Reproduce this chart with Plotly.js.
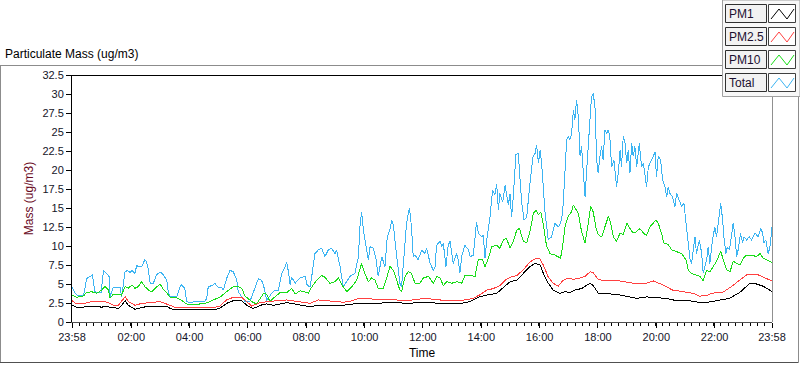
<!DOCTYPE html>
<html><head><meta charset="utf-8">
<script src="https://cdn.plot.ly/plotly-3.0.1.min.js"></script>
<style>html,body{margin:0;padding:0;background:#fff}#chart{width:800px;height:365px}
.scatterlayer path.js-line{shape-rendering:crispEdges}
</style>
</head><body><div id="chart"></div>
<script>
// ---- data (hours since 23:58, mass in ug/m3) ----
const seriesNames = ['PM1', 'PM2.5', 'PM10', 'Total'];
const seriesColors = ['#000000', '#ff4040', '#19dd19', '#3cb4f2'];

const tickHours = [0, 2.033, 4.033, 6.033, 8.033, 10.033, 12.033, 14.033, 16.033, 18.033, 20.033, 22.033, 24];
const tickLabels = ['23:58', '02:00', '04:00', '06:00', '08:00', '10:00', '12:00', '14:00', '16:00', '18:00', '20:00', '22:00', '23:58'];
const yTickVals = [0, 2.5, 5, 7.5, 10, 12.5, 15, 17.5, 20, 22.5, 25, 27.5, 30, 32.5];
const yTickText = ['0', '2.5', '5', '7.5', '10', '12.5', '15', '17.5', '20', '22.5', '25', '27.5', '30', '32.5'];

const pm1Time = [0, 0.16, 0.39, 0.5, 0.85, 1.02, 1.13, 1.3, 1.59, 1.7, 1.82, 1.93, 2.16, 2.39, 2.62, 3.02, 3.25, 3.36, 3.53, 4.5, 4.84, 5.07, 5.3, 5.53, 5.82, 5.99, 6.2, 6.33, 6.45, 6.67, 6.9, 7.13, 7.36, 7.53, 7.82, 8.16, 8.45, 9.0, 9.3, 9.82, 10.42, 11.02, 11.47, 12.1, 12.62, 13.3, 13.65, 13.99, 14.22, 14.56, 14.79, 15.02, 15.25, 15.48, 15.7, 15.88, 16.05, 16.16, 16.33, 16.5, 16.73, 16.9, 17.07, 17.24, 17.47, 17.76, 17.87, 18.04, 18.33, 18.79, 19.36, 19.7, 20.04, 20.39, 20.73, 21.07, 21.64, 22.1, 22.54, 22.9, 23.24, 23.47, 23.7, 24];
const pm1Mass = [2.2, 1.93, 1.93, 2.1, 2.1, 1.93, 2.1, 1.93, 1.8, 2.2, 2.8, 2.2, 1.67, 1.93, 2.1, 2.0, 2.1, 1.8, 1.58, 1.58, 1.58, 1.8, 2.45, 2.8, 2.8, 2.2, 1.8, 1.93, 2.2, 2.37, 2.2, 2.37, 2.55, 2.45, 2.2, 2.0, 2.2, 2.15, 2.2, 2.45, 2.45, 2.6, 2.45, 2.6, 2.45, 2.4, 2.7, 3.33, 3.55, 3.77, 4.6, 5.3, 5.5, 6.4, 7.3, 7.7, 7.5, 6.4, 5.1, 4.2, 3.77, 4.0, 3.85, 4.2, 4.4, 5.1, 4.8, 3.8, 3.75, 3.55, 3.1, 3.3, 3.2, 3.1, 2.8, 2.85, 2.5, 2.8, 3.1, 3.9, 5.1, 5.0, 4.7, 4.0];

const pm25Time = [0, 0.16, 0.39, 0.5, 0.67, 1.13, 1.3, 1.42, 1.59, 1.7, 1.82, 1.93, 2.16, 2.39, 2.62, 3.02, 3.36, 3.53, 3.93, 4.5, 4.84, 5.07, 5.3, 5.53, 5.82, 5.99, 6.16, 6.45, 6.67, 7.02, 7.36, 7.53, 7.82, 8.16, 8.45, 8.79, 9.13, 9.3, 9.53, 9.82, 10.16, 10.5, 11.02, 11.24, 11.7, 12.05, 12.39, 12.85, 13.3, 13.53, 13.76, 13.99, 14.22, 14.45, 14.67, 14.85, 15.02, 15.25, 15.48, 15.7, 15.88, 16.04, 16.16, 16.33, 16.5, 16.67, 16.82, 17.01, 17.19, 17.42, 17.59, 17.76, 17.87, 18.04, 18.33, 18.79, 19.24, 19.59, 19.93, 20.25, 20.59, 20.93, 21.3, 21.51, 21.76, 21.96, 22.31, 22.62, 22.92, 23.13, 23.47, 23.7, 24];
const pm25Mass = [2.8, 2.37, 2.37, 2.55, 2.68, 2.68, 2.45, 2.2, 2.2, 2.68, 3.33, 2.68, 2.2, 2.45, 2.55, 2.68, 2.2, 1.93, 1.89, 1.89, 1.89, 2.1, 2.9, 3.25, 3.25, 2.68, 2.1, 2.55, 2.68, 2.8, 2.9, 2.8, 2.68, 2.46, 2.9, 2.8, 2.7, 2.6, 2.7, 3.1, 3.1, 2.9, 3.0, 2.8, 2.9, 3.1, 3.0, 2.8, 2.8, 3.0, 3.1, 3.6, 4.2, 4.4, 4.8, 5.5, 5.9, 6.1, 6.9, 7.9, 8.3, 8.3, 7.5, 5.9, 5.1, 4.7, 5.4, 5.8, 5.6, 5.8, 6.0, 6.6, 6.5, 5.6, 5.4, 5.4, 5.1, 5.0, 5.4, 4.9, 4.2, 4.0, 3.77, 3.4, 3.5, 3.8, 3.9, 4.7, 5.6, 6.2, 6.3, 5.9, 5.4];

const pm10Time = [0, 0.16, 0.39, 0.5, 0.67, 0.85, 1.02, 1.13, 1.25, 1.3, 1.42, 1.59, 1.7, 1.82, 1.93, 2.05, 2.16, 2.27, 2.39, 2.5, 2.62, 2.73, 2.85, 3.02, 3.13, 3.25, 3.36, 3.53, 3.7, 3.93, 4.16, 4.5, 4.67, 4.84, 5.07, 5.3, 5.53, 5.65, 5.82, 5.93, 6.16, 6.33, 6.45, 6.56, 6.67, 6.79, 6.9, 7.13, 7.36, 7.53, 7.65, 7.82, 7.99, 8.1, 8.22, 8.39, 8.56, 8.67, 8.84, 9.02, 9.13, 9.3, 9.42, 9.59, 9.76, 9.87, 9.93, 10.04, 10.16, 10.27, 10.39, 10.5, 10.67, 10.79, 10.9, 11.02, 11.13, 11.24, 11.3, 11.42, 11.53, 11.64, 11.76, 11.93, 12.05, 12.22, 12.39, 12.5, 12.62, 12.73, 12.85, 13.02, 13.19, 13.36, 13.47, 13.65, 13.82, 13.93, 14.08, 14.16, 14.28, 14.39, 14.56, 14.67, 14.79, 14.9, 15.02, 15.13, 15.25, 15.34, 15.48, 15.59, 15.7, 15.82, 15.91, 15.99, 16.07, 16.16, 16.27, 16.39, 16.56, 16.67, 16.75, 16.82, 16.9, 17.01, 17.13, 17.19, 17.28, 17.36, 17.47, 17.59, 17.7, 17.78, 17.87, 17.96, 18.04, 18.16, 18.27, 18.39, 18.47, 18.56, 18.67, 18.79, 18.9, 19.02, 19.13, 19.24, 19.36, 19.47, 19.59, 19.7, 19.81, 19.93, 20.02, 20.1, 20.21, 20.29, 20.44, 20.56, 20.73, 20.9, 21.05, 21.13, 21.24, 21.41, 21.53, 21.64, 21.76, 21.87, 21.99, 22.1, 22.24, 22.33, 22.44, 22.56, 22.67, 22.79, 22.9, 23.02, 23.13, 23.3, 23.47, 23.59, 23.7, 23.82, 24];
const pm10Mass = [3.55, 3.25, 3.42, 3.86, 3.99, 3.77, 4.21, 4.65, 4.21, 3.11, 3.68, 3.68, 3.55, 4.65, 4.43, 4.87, 4.43, 4.65, 5.31, 4.65, 4.21, 3.99, 4.43, 5.0, 4.3, 3.86, 3.25, 3.25, 3.0, 2.37, 2.24, 2.46, 2.55, 2.9, 3.25, 3.99, 4.65, 4.74, 4.43, 3.42, 2.68, 2.37, 3.0, 3.72, 3.68, 2.68, 3.11, 3.86, 3.86, 4.43, 3.68, 4.1, 3.95, 3.8, 4.6, 5.5, 6.1, 5.9, 5.1, 5.3, 5.8, 4.6, 4.0, 4.6, 5.5, 6.8, 7.7, 6.4, 5.3, 5.8, 5.5, 4.4, 4.4, 5.8, 7.3, 6.8, 5.5, 4.2, 4.0, 6.0, 6.6, 6.4, 5.1, 5.1, 5.8, 6.0, 5.1, 6.0, 5.8, 4.8, 5.3, 5.1, 5.3, 5.1, 6.1, 6.1, 6.0, 8.2, 8.2, 7.3, 8.4, 9.9, 10.1, 9.7, 10.8, 11.0, 9.7, 10.6, 12.1, 12.3, 10.6, 10.4, 11.9, 14.3, 14.7, 14.1, 14.5, 12.8, 10.0, 9.0, 8.8, 8.6, 8.4, 9.9, 12.5, 13.9, 14.5, 15.4, 14.9, 14.3, 11.9, 10.4, 13.0, 15.2, 14.5, 12.5, 11.5, 11.2, 12.5, 13.9, 13.0, 11.2, 10.6, 11.7, 11.5, 13.0, 12.3, 11.7, 11.9, 12.3, 11.7, 11.4, 12.5, 13.0, 13.4, 13.0, 11.7, 10.4, 10.2, 9.5, 9.3, 9.0, 8.2, 6.8, 6.4, 6.2, 6.0, 5.4, 6.8, 6.6, 7.3, 8.0, 9.3, 8.2, 6.9, 6.6, 8.0, 7.7, 7.5, 8.4, 8.8, 8.8, 8.6, 9.0, 8.4, 8.2, 7.8];

const totalTime = [0, 0.1, 0.2, 0.4, 0.5, 0.6, 0.7, 0.78, 0.85, 1.0, 1.08, 1.18, 1.27, 1.31, 1.42, 1.55, 1.65, 1.7, 1.82, 1.9, 2.0, 2.05, 2.16, 2.22, 2.27, 2.39, 2.5, 2.56, 2.62, 2.68, 2.79, 2.9, 3.02, 3.13, 3.25, 3.3, 3.36, 3.59, 3.7, 3.76, 3.87, 3.93, 4.1, 4.16, 4.55, 4.62, 4.67, 4.84, 4.9, 5.0, 5.13, 5.19, 5.3, 5.42, 5.53, 5.65, 5.7, 5.82, 5.93, 6.1, 6.28, 6.39, 6.5, 6.58, 6.67, 6.73, 6.85, 6.96, 7.08, 7.19, 7.31, 7.36, 7.42, 7.48, 7.53, 7.65, 7.82, 7.99, 8.06, 8.16, 8.22, 8.33, 8.45, 8.56, 8.67, 8.79, 8.9, 9.02, 9.07, 9.19, 9.3, 9.42, 9.53, 9.7, 9.82, 9.87, 9.93, 9.99, 10.1, 10.16, 10.22, 10.33, 10.42, 10.5, 10.62, 10.73, 10.81, 10.9, 10.96, 11.02, 11.07, 11.13, 11.24, 11.3, 11.36, 11.42, 11.47, 11.57, 11.64, 11.7, 11.76, 11.87, 11.99, 12.1, 12.16, 12.28, 12.39, 12.45, 12.5, 12.62, 12.68, 12.73, 12.82, 12.9, 12.96, 13.07, 13.19, 13.24, 13.3, 13.36, 13.47, 13.59, 13.65, 13.76, 13.87, 13.93, 14.05, 14.1, 14.16, 14.22, 14.33, 14.42, 14.5, 14.56, 14.62, 14.67, 14.77, 14.85, 14.9, 14.96, 15.02, 15.07, 15.13, 15.22, 15.3, 15.36, 15.42, 15.5, 15.59, 15.7, 15.8, 15.88, 15.93, 15.99, 16.05, 16.1, 16.16, 16.22, 16.33, 16.44, 16.56, 16.67, 16.75, 16.82, 16.9, 16.96, 17.01, 17.07, 17.13, 17.19, 17.24, 17.3, 17.36, 17.42, 17.47, 17.53, 17.59, 17.64, 17.7, 17.76, 17.81, 17.87, 17.93, 17.99, 18.04, 18.1, 18.16, 18.21, 18.27, 18.33, 18.39, 18.44, 18.5, 18.58, 18.67, 18.73, 18.79, 18.84, 18.9, 18.96, 19.02, 19.07, 19.13, 19.19, 19.24, 19.3, 19.36, 19.45, 19.53, 19.59, 19.64, 19.7, 19.76, 19.81, 19.87, 19.93, 19.99, 20.04, 20.1, 20.18, 20.25, 20.33, 20.39, 20.44, 20.5, 20.59, 20.67, 20.73, 20.82, 20.9, 20.98, 21.05, 21.13, 21.19, 21.24, 21.3, 21.36, 21.41, 21.51, 21.59, 21.64, 21.7, 21.76, 21.81, 21.87, 21.96, 22.04, 22.1, 22.16, 22.24, 22.31, 22.35, 22.42, 22.47, 22.54, 22.62, 22.67, 22.73, 22.79, 22.84, 22.92, 22.99, 23.04, 23.13, 23.22, 23.3, 23.42, 23.53, 23.61, 23.68, 23.72, 23.79, 23.87, 23.93, 24];
const totalMass = [4.6, 3.8, 3.5, 3.5, 5.7, 5.9, 6.2, 4.0, 3.9, 3.9, 6.8, 6.4, 6.0, 3.3, 4.6, 4.6, 4.6, 3.3, 6.6, 6.8, 6.5, 6.8, 6.4, 7.5, 7.3, 7.3, 8.2, 7.9, 6.8, 5.1, 5.1, 6.2, 6.6, 6.2, 5.5, 4.0, 3.3, 3.3, 4.6, 4.9, 4.4, 2.7, 2.5, 2.7, 2.7, 3.1, 4.6, 4.9, 5.1, 4.6, 4.6, 4.2, 5.7, 6.8, 6.6, 5.5, 4.0, 3.3, 2.7, 2.7, 4.4, 5.7, 5.5, 4.6, 2.9, 3.1, 3.8, 4.2, 4.2, 6.4, 7.3, 7.9, 6.6, 4.9, 5.9, 5.1, 5.8, 6.0, 4.9, 4.6, 6.0, 9.0, 9.5, 9.7, 8.6, 9.5, 9.7, 9.0, 9.5, 7.3, 4.65, 5.3, 6.0, 6.4, 8.6, 12.5, 14.5, 12.1, 9.5, 8.2, 9.9, 9.7, 8.4, 6.0, 8.6, 7.3, 11.2, 12.1, 13.4, 12.8, 10.8, 8.6, 5.1, 4.65, 7.7, 9.9, 13.0, 15.0, 12.5, 8.6, 8.8, 8.2, 9.5, 9.0, 9.7, 7.7, 6.8, 7.3, 10.1, 10.6, 9.9, 10.4, 7.3, 10.1, 10.6, 7.7, 9.0, 8.2, 6.4, 8.6, 10.1, 9.5, 8.6, 8.8, 13.2, 11.7, 11.2, 11.45, 8.4, 10.8, 13.8, 17.4, 16.7, 18.2, 14.7, 16.9, 15.8, 18.0, 16.9, 15.4, 16.9, 13.8, 16.5, 22.0, 22.2, 18.7, 15.6, 13.4, 13.8, 18.2, 21.7, 22.2, 23.3, 20.9, 22.6, 21.0, 17.4, 14.3, 10.8, 11.2, 13.0, 12.5, 13.0, 14.3, 19.6, 24.0, 24.4, 24.0, 24.8, 27.9, 26.6, 29.2, 27.0, 21.8, 23.1, 19.1, 16.5, 19.6, 23.1, 27.9, 29.6, 30.1, 28.3, 21.3, 19.6, 21.8, 23.1, 21.3, 25.3, 24.8, 25.3, 24.4, 20.4, 21.3, 17.8, 19.6, 22.6, 20.4, 24.4, 23.5, 20.9, 22.6, 19.6, 23.5, 21.8, 23.1, 20.4, 23.5, 20.4, 20.9, 19.1, 17.8, 20.4, 20.9, 21.3, 21.8, 22.4, 19.1, 21.8, 21.3, 18.7, 17.8, 16.5, 17.8, 16.9, 16.5, 15.2, 16.9, 16.0, 15.2, 15.6, 13.4, 10.8, 8.2, 7.7, 9.9, 11.2, 9.0, 10.8, 9.0, 6.4, 7.3, 8.2, 9.9, 7.7, 10.8, 12.5, 11.2, 13.4, 15.6, 13.4, 11.2, 9.0, 9.9, 9.5, 12.1, 13.0, 11.2, 8.6, 9.5, 11.7, 10.4, 11.2, 10.8, 11.2, 10.8, 11.7, 11.2, 12.3, 11.7, 10.4, 10.8, 9.0, 9.9, 12.5];

// ---- figure ----
const L = 72, T = 75, W = 700, H = 247;           // plot area in pixels
const px = v => (v - L) / W, py = v => (T + H - v) / H;

const traces = [
  {x: totalTime, y: totalMass, color: seriesColors[3]},
  {x: pm10Time, y: pm10Mass, color: seriesColors[2]},
  {x: pm25Time, y: pm25Mass, color: seriesColors[1]},
  {x: pm1Time, y: pm1Mass, color: seriesColors[0]}
].map(s => ({x: s.x, y: s.y, type: 'scatter', mode: 'lines', line: {color: s.color, width: 1}, hoverinfo: 'skip', showlegend: false}));

const shapes = [];
const annotations = [];
const seg = (x0, y0, x1, y1, color) => shapes.push({type: 'line', xref: 'paper', yref: 'paper', x0: px(x0), y0: py(y0), x1: px(x1), y1: py(y1), line: {color: color, width: 1}, layer: 'above'});
// outer panel frame
seg(0, 65.5, 722, 65.5, '#8c8c8c');
seg(0.5, 65.5, 0.5, 362.5, '#8c8c8c');
seg(0, 362.5, 798.5, 362.5, '#505050');
seg(798.5, 96, 798.5, 362.5, '#8c8c8c');
// plot frame (top / right)
seg(72, 75.5, 722, 75.5, '#000000');
seg(772.5, 96, 772.5, 322, '#909090');
// legend panel
shapes.push({type: 'rect', xref: 'paper', yref: 'paper', x0: px(722.5), y0: py(0), x1: px(800), y1: py(96.5), fillcolor: '#f8f8f8', line: {color: '#a0a0a0', width: 1}, layer: 'above'});
const rowTops = [4, 27, 50, 73];
seriesNames.forEach((name, i) => {
  const t0 = rowTops[i];
  shapes.push({type: 'rect', xref: 'paper', yref: 'paper', x0: px(725.5), y0: py(t0 + 0.5), x1: px(766.5), y1: py(t0 + 18.5), fillcolor: '#f2f2f2', line: {color: '#303030', width: 1}, layer: 'above'});
  shapes.push({type: 'rect', xref: 'paper', yref: 'paper', x0: px(768.5), y0: py(t0 + 0.5), x1: px(795.5), y1: py(t0 + 18.5), fillcolor: '#ffffff', line: {color: '#404040', width: 1}, layer: 'above'});
  const zz = [[771, t0 + 15], [779, t0 + 5], [787, t0 + 15], [794, t0 + 5]];
  shapes.push({type: 'path', xref: 'paper', yref: 'paper', path: 'M' + zz.map(p => px(p[0]) + ',' + py(p[1])).join(' L'), line: {color: seriesColors[i], width: 1}, layer: 'above'});
  annotations.push({xref: 'paper', yref: 'paper', x: px(727), y: py(t0 + 10), xanchor: 'left', yanchor: 'middle', text: name, showarrow: false, font: {family: 'Liberation Sans, Arial, sans-serif', size: 12, color: '#1c1030'}});
});
annotations.push({xref: 'paper', yref: 'paper', x: px(3), y: py(54), xanchor: 'left', yanchor: 'middle', text: 'Particulate Mass (ug/m3)', showarrow: false, font: {family: 'Liberation Sans, Arial, sans-serif', size: 12, color: '#000000'}});

const layout = {
  width: 800, height: 365,
  margin: {l: L, r: 800 - L - W, t: T, b: 365 - T - H, pad: 0},
  paper_bgcolor: '#ffffff', plot_bgcolor: '#ffffff',
  font: {family: 'Liberation Sans, Arial, sans-serif', size: 11, color: '#141428'},
  showlegend: false,
  xaxis: {
    range: [0, 24], tickmode: 'array', tickvals: tickHours, ticktext: tickLabels,
    showgrid: false, zeroline: false, showline: true, linecolor: '#505050', linewidth: 1,
    ticks: 'outside', ticklen: 5, tickcolor: '#000000', tickwidth: 1,
    minor: {tickmode: 'linear', tick0: 0, dtick: 0.25, ticks: 'outside', ticklen: 3, tickcolor: '#000000', tickwidth: 1, showgrid: false},
    title: {text: 'Time', font: {size: 12, color: '#000000'}, standoff: 6},
    fixedrange: true
  },
  yaxis: {
    range: [0, 32.5], tickmode: 'array', tickvals: yTickVals, ticktext: yTickText,
    showgrid: false, zeroline: false, showline: true, linecolor: '#000000', linewidth: 1,
    ticks: 'outside', ticklen: 5, tickcolor: '#000000', tickwidth: 1,
    title: {text: 'Mass (ug/m3)', font: {size: 12, color: '#6a0a1e'}, standoff: 6},
    fixedrange: true
  },
  shapes: shapes,
  annotations: annotations
};
Plotly.newPlot('chart', traces, layout, {staticPlot: true, displayModeBar: false});
</script></body></html>
